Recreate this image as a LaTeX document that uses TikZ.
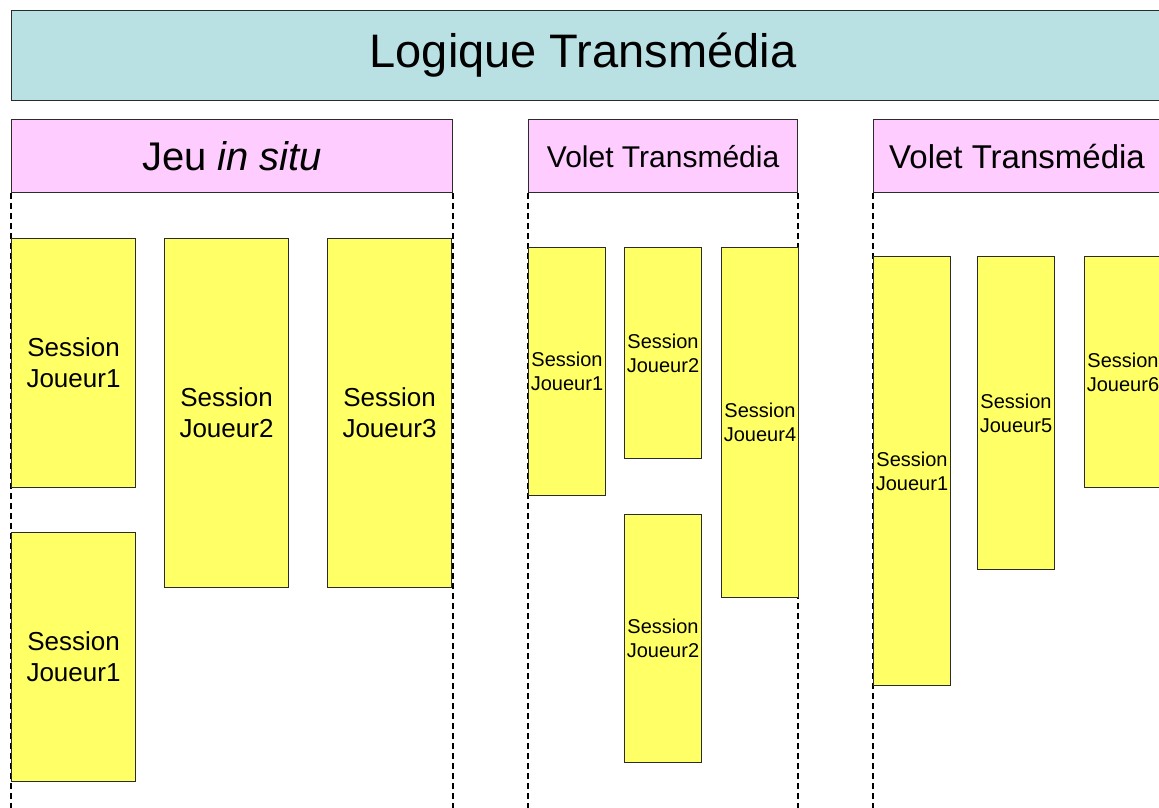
\documentclass[tikz,border=0pt]{standalone}
\usepackage{fontspec}
\setmainfont{Liberation Sans}
\definecolor{titlebg}{HTML}{B9E0E3}
\definecolor{headbg}{HTML}{FFCCFF}
\definecolor{sessbg}{HTML}{FFFF66}
\definecolor{edge}{HTML}{2B2B2B}

\tikzset{
  titlebar/.style={draw=edge, fill=titlebg, line width=1.2pt, anchor=north west, inner sep=0pt},
  header/.style={draw=edge, fill=headbg, line width=1.2pt, anchor=north west, inner sep=0pt},
  guide/.style={draw=black, line width=1.6pt, dash pattern=on 6pt off 4pt},
  session/.style={draw=edge, fill=sessbg, line width=1pt, anchor=north west,
    inner sep=0pt, align=center},
  sessbig/.style={minimum width=124, text width=124, font=\fontsize{26}{31}\selectfont},
  sesssmall/.style={minimum width=77, text width=77, font=\fontsize{20}{24}\selectfont}
}

\begin{document}
\begin{tikzpicture}[x=1pt, y=-1pt]
  \useasboundingbox (0,0) rectangle (1159,807);
  \clip (0,0) rectangle (1159,807);
  \fill[white] (0,0) rectangle (1159,807);
  \coordinate (bottom) at (0,810);

  % Title bar
  \node[titlebar, minimum width=1170, minimum height=90] (title) at (11,10) {};
  \node[font=\fontsize{47}{56}\selectfont] (titletext) at (583,55) {Logique Transmédia};

  % Column headers
  \node[header, minimum width=441, minimum height=73, font=\fontsize{40}{48}\selectfont]
    (jeu) at (11,119) {Jeu \textit{in situ}};
  \node[header, minimum width=269, minimum height=73, font=\fontsize{30}{36}\selectfont]
    (volet1) at (528,119) {Volet Transmédia};
  \node[header, minimum width=300, minimum height=73] (volet2) at (873,119) {};
  \node[font=\fontsize{33}{40}\selectfont] (volet2text) at (1017,157) {Volet Transmédia};

  % Dashed column borders
  \foreach \h in {jeu, volet1, volet2}
    \draw[guide] (\h.south west) -- (\h.south west |- bottom);
  \foreach \h in {jeu, volet1}
    \draw[guide] (\h.south east) -- (\h.south east |- bottom);

  % Sessions: in situ game
  \foreach \nm/\x/\y/\h/\num in {ja/11/238/249/1, jb/164/238/349/2,
      jc/327/238/349/3, jd/11/532/249/1}
    \node[session, sessbig, minimum height=\h] (\nm) at (\x,\y) {Session\\Joueur\num};

  % Sessions: first transmedia part
  \foreach \nm/\x/\y/\h/\num in {ta/528/247/248/1, tb/624/247/211/2,
      tc/721/247/350/4, td/624/514/248/2}
    \node[session, sesssmall, minimum height=\h] (\nm) at (\x,\y) {Session\\Joueur\num};

  % Sessions: second transmedia part
  \foreach \nm/\x/\y/\h/\num in {ua/873/256/429/1, ub/977/256/313/5,
      uc/1084/256/231/6}
    \node[session, sesssmall, minimum height=\h] (\nm) at (\x,\y) {Session\\Joueur\num};
\end{tikzpicture}
\end{document}
